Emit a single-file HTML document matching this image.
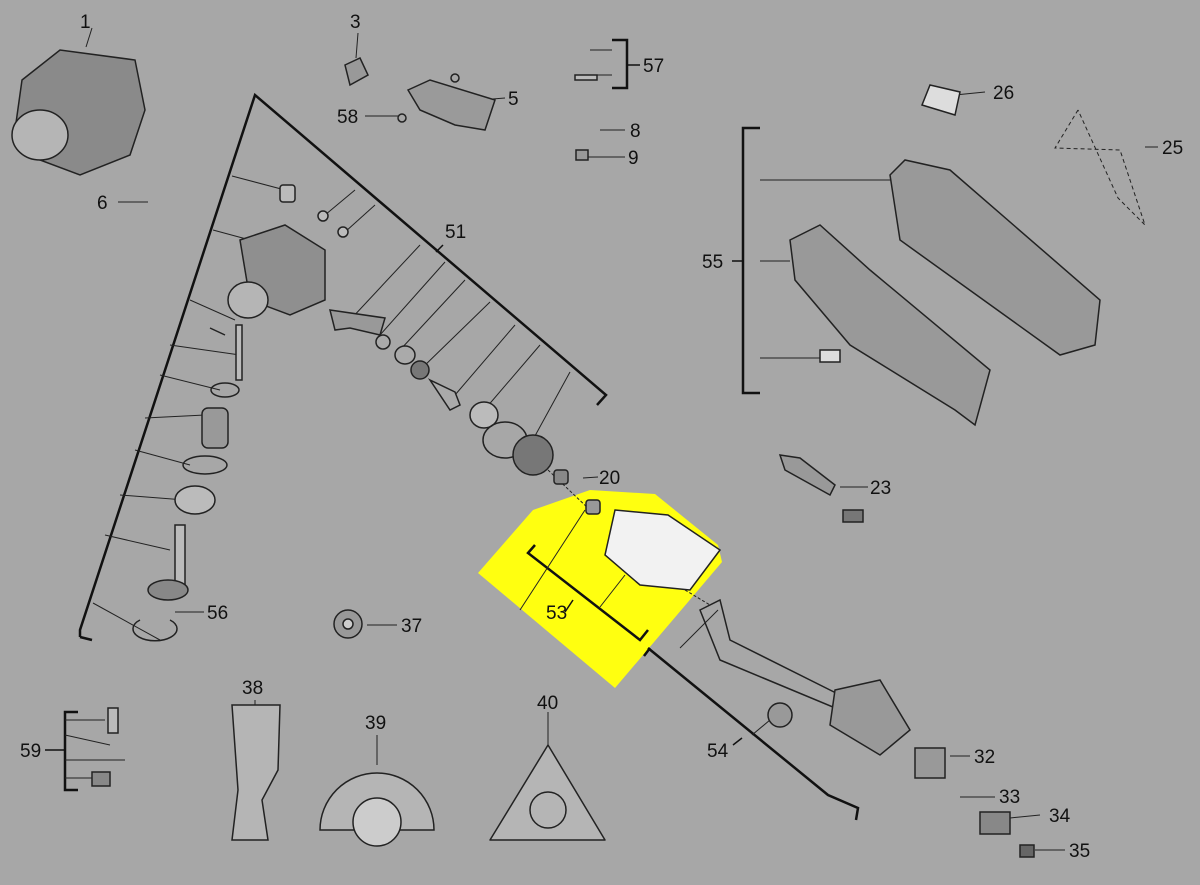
<!DOCTYPE html>
<html><head><meta charset="utf-8"><style>
html,body{margin:0;padding:0;background:#a7a7a7;}
svg{display:block}
text{font-family:"Liberation Sans",sans-serif;font-size:19px;fill:#111}
</style></head><body>
<svg width="1200" height="885" viewBox="0 0 1200 885" xmlns="http://www.w3.org/2000/svg">
<rect width="1200" height="885" fill="#a7a7a7"/>
<!-- yellow highlight -->
<polygon points="533,510 590,490 655,494 718,545 722,562 615,688 478,573" fill="#ffff10"/>

<g stroke="#111" fill="none" stroke-width="2.5">
 <!-- big triangle bracket -->
 <polyline points="80,637 80,630 255,95 606,395 597,405"/>
 <line x1="80" y1="637" x2="92" y2="640"/>
 <!-- 53 bracket -->
 <polyline points="535,545 528,553 640,640 648,630"/>
 <!-- 54 bracket -->
 <polyline points="648,648 828,795 858,808 856,820"/>
 <line x1="650" y1="648" x2="644" y2="656"/>
 <!-- 55 -->
 <polyline points="760,128 743,128 743,393 760,393"/>
 <!-- 59 -->
 <polyline points="78,712 65,712 65,790 78,790"/>
 <!-- 57 -->
 <polyline points="612,40 627,40 627,88 612,88"/>
</g>
<g stroke="#111" stroke-width="1.5" fill="none">
 <line x1="443" y1="245" x2="436" y2="252"/>
 <line x1="565" y1="612" x2="573" y2="600"/>
 <line x1="733" y1="745" x2="742" y2="738"/>
 <line x1="732" y1="261" x2="743" y2="261"/>
 <line x1="45" y1="750" x2="65" y2="750"/>
 <line x1="627" y1="65" x2="640" y2="65"/>
</g>
<!-- leader lines -->
<g stroke="#222" stroke-width="1" fill="none">
 <line x1="86" y1="47" x2="92" y2="28"/>
 <line x1="358" y1="33" x2="356" y2="58"/>
 <line x1="480" y1="100" x2="505" y2="98"/>
 <line x1="365" y1="116" x2="398" y2="116"/>
 <line x1="600" y1="130" x2="625" y2="130"/>
 <line x1="585" y1="157" x2="625" y2="157"/>
 <line x1="118" y1="202" x2="148" y2="202"/>
 <line x1="955" y1="95" x2="985" y2="92"/>
 <line x1="1145" y1="147" x2="1158" y2="147"/>
 <line x1="583" y1="478" x2="598" y2="477"/>
 <line x1="840" y1="487" x2="868" y2="487"/>
 <line x1="175" y1="612" x2="204" y2="612"/>
 <line x1="367" y1="625" x2="397" y2="625"/>
 <line x1="255" y1="700" x2="255" y2="735"/>
 <line x1="377" y1="735" x2="377" y2="765"/>
 <line x1="548" y1="712" x2="548" y2="745"/>
 <line x1="950" y1="756" x2="970" y2="756"/>
 <line x1="960" y1="797" x2="995" y2="797"/>
 <line x1="1010" y1="818" x2="1040" y2="815"/>
 <line x1="1035" y1="850" x2="1065" y2="850"/>
 <line x1="760" y1="180" x2="905" y2="180"/>
 <line x1="760" y1="261" x2="790" y2="261"/>
 <line x1="760" y1="358" x2="820" y2="358"/>
 <!-- triangle left leaders -->
 <line x1="232" y1="176" x2="285" y2="190"/>
 <line x1="213" y1="230" x2="250" y2="240"/>
 <line x1="190" y1="300" x2="235" y2="320"/>
 <line x1="170" y1="345" x2="240" y2="355"/>
 <line x1="160" y1="375" x2="220" y2="390"/>
 <line x1="145" y1="418" x2="205" y2="415"/>
 <line x1="135" y1="450" x2="190" y2="465"/>
 <line x1="120" y1="495" x2="185" y2="500"/>
 <line x1="105" y1="535" x2="170" y2="550"/>
 <line x1="93" y1="603" x2="160" y2="640"/>
 <!-- triangle right leaders -->
 <line x1="355" y1="190" x2="325" y2="215"/>
 <line x1="375" y1="205" x2="345" y2="232"/>
 <line x1="420" y1="245" x2="350" y2="320"/>
 <line x1="445" y1="262" x2="380" y2="335"/>
 <line x1="465" y1="280" x2="400" y2="350"/>
 <line x1="490" y1="302" x2="420" y2="370"/>
 <line x1="515" y1="325" x2="455" y2="395"/>
 <line x1="540" y1="345" x2="480" y2="415"/>
 <line x1="570" y1="372" x2="530" y2="445"/>
 <line x1="530" y1="460" x2="545" y2="470"/>
 <line x1="585" y1="510" x2="520" y2="610" stroke-dasharray="0"/>
 <line x1="625" y1="575" x2="600" y2="607"/>
 <line x1="718" y1="610" x2="680" y2="648"/>
 <line x1="770" y1="720" x2="752" y2="735"/>
 <line x1="548" y1="470" x2="590" y2="510" stroke-dasharray="3,2"/>
 <line x1="685" y1="590" x2="710" y2="605" stroke-dasharray="3,2"/>
 <!-- 59 leaders -->
 <line x1="65" y1="720" x2="105" y2="720"/>
 <line x1="65" y1="735" x2="110" y2="745"/>
 <line x1="65" y1="760" x2="125" y2="760"/>
 <line x1="65" y1="778" x2="95" y2="778"/>
 <!-- 57 leaders -->
 <line x1="590" y1="50" x2="612" y2="50"/>
 <line x1="595" y1="75" x2="612" y2="75"/>
</g>
<g stroke="#222" stroke-width="1" fill="none" stroke-dasharray="4,3">
 <polyline points="1078,110 1055,148 1120,150 1145,225 1118,198 1078,110"/>
</g>

<!-- parts (simplified) -->
<g stroke="#222" stroke-width="1.5" fill="#8a8a8a">
 <path d="M22,80 L60,50 L135,60 L145,110 L130,155 L80,175 L40,160 L15,130 Z"/>
 <ellipse cx="40" cy="135" rx="28" ry="25" fill="#b5b5b5"/>
 <path d="M345,65 L360,58 L368,75 L350,85 Z" fill="#999"/>
 <path d="M408,90 L430,80 L495,100 L485,130 L455,125 L420,110 Z" fill="#9a9a9a"/>
 <circle cx="455" cy="78" r="4" fill="none"/><circle cx="402" cy="118" r="4" fill="none"/>
 <path d="M240,240 L285,225 L325,250 L325,300 L290,315 L250,300 Z" fill="#8f8f8f"/>
 <ellipse cx="248" cy="300" rx="20" ry="18" fill="#b5b5b5"/>
 <rect x="280" y="185" width="15" height="17" rx="3" fill="#bbb"/>
 <circle cx="323" cy="216" r="5" fill="#bbb"/><circle cx="343" cy="232" r="5" fill="#bbb"/>
 <path d="M330,310 L385,318 L380,335 L350,328 L335,330 Z" fill="#999"/>
 <ellipse cx="383" cy="342" rx="7" ry="7" fill="#aaa"/>
 <ellipse cx="405" cy="355" rx="10" ry="9" fill="#aaa"/>
 <ellipse cx="420" cy="370" rx="9" ry="9" fill="#777"/>
 <path d="M430,380 L455,392 L460,405 L450,410 Z" fill="#aaa"/>
 <ellipse cx="484" cy="415" rx="14" ry="13" fill="#bbb"/>
 <ellipse cx="505" cy="440" rx="22" ry="18" fill="none"/>
 <ellipse cx="533" cy="455" rx="20" ry="20" fill="#777"/>
 <rect x="554" y="470" width="14" height="14" rx="3" fill="#888"/>
 <rect x="586" y="500" width="14" height="14" rx="3" fill="#999"/>
 <path d="M615,510 L668,515 L720,550 L690,590 L640,585 L605,555 Z" fill="#f2f2f2"/>
 <path d="M210,328 L225,335" />
 <rect x="236" y="325" width="6" height="55" fill="#bbb"/>
 <ellipse cx="225" cy="390" rx="14" ry="7" fill="none"/>
 <rect x="202" y="408" width="26" height="40" rx="6" fill="#999"/>
 <ellipse cx="205" cy="465" rx="22" ry="9" fill="none"/>
 <ellipse cx="195" cy="500" rx="20" ry="14" fill="#bbb"/>
 <rect x="175" y="525" width="10" height="60" fill="#bbb"/>
 <ellipse cx="168" cy="590" rx="20" ry="10" fill="#888"/>
 <path d="M140,620 A22,12 0 1,0 170,620" fill="none"/>
 <circle cx="348" cy="624" r="14" fill="#999"/><circle cx="348" cy="624" r="5" fill="#ccc"/>
 <path d="M232,705 L280,705 L278,770 L262,800 L268,840 L232,840 L238,790 Z" fill="#b5b5b5"/>
 <path d="M320,830 A57,57 0 0,1 434,830 Z" fill="#b5b5b5"/>
 <circle cx="377" cy="822" r="24" fill="#ccc"/>
 <path d="M548,745 L605,840 L490,840 Z" fill="#b5b5b5" stroke-linejoin="round"/>
 <circle cx="548" cy="810" r="18" fill="none"/>
 <path d="M930,85 L960,92 L955,115 L922,105 Z" fill="#ddd"/>
 <path d="M890,175 L905,160 L950,170 L1100,300 L1095,345 L1060,355 L900,240 Z" fill="#999"/>
 <path d="M790,240 L820,225 L870,270 L990,370 L975,425 L955,410 L850,345 L795,280 Z" fill="#999"/>
 <path d="M780,455 L800,458 L835,485 L830,495 L785,470 Z" fill="#999"/>
 <rect x="843" y="510" width="20" height="12" fill="#777"/>
 <path d="M700,610 L720,600 L730,640 L830,690 L850,700 L840,710 L720,660 Z" fill="none"/>
 <path d="M835,690 L880,680 L910,730 L880,755 L830,725 Z" fill="#999"/>
 <circle cx="780" cy="715" r="12" fill="#999"/>
 <rect x="915" y="748" width="30" height="30" fill="#999"/>
 <rect x="980" y="812" width="30" height="22" fill="#888"/>
 <rect x="1020" y="845" width="14" height="12" fill="#666"/>
 <rect x="108" y="708" width="10" height="25" fill="#bbb"/>
 <rect x="92" y="772" width="18" height="14" fill="#888"/>
 <rect x="820" y="350" width="20" height="12" fill="#ddd"/>
 <rect x="575" y="75" width="22" height="5" fill="#bbb"/>
 <rect x="576" y="150" width="12" height="10" fill="#999"/>
</g>

<!-- labels -->
<text x="80" y="28">1</text>
<text x="350" y="28">3</text>
<text x="508" y="105">5</text>
<text x="337" y="123">58</text>
<text x="643" y="72">57</text>
<text x="630" y="137">8</text>
<text x="628" y="164">9</text>
<text x="97" y="209">6</text>
<text x="445" y="238">51</text>
<text x="993" y="99">26</text>
<text x="1162" y="154">25</text>
<text x="702" y="268">55</text>
<text x="599" y="484">20</text>
<text x="870" y="494">23</text>
<text x="546" y="619">53</text>
<text x="207" y="619">56</text>
<text x="401" y="632">37</text>
<text x="242" y="694">38</text>
<text x="365" y="729">39</text>
<text x="537" y="709">40</text>
<text x="707" y="757">54</text>
<text x="20" y="757">59</text>
<text x="974" y="763">32</text>
<text x="999" y="803">33</text>
<text x="1049" y="822">34</text>
<text x="1069" y="857">35</text>
</svg>
</body></html>
